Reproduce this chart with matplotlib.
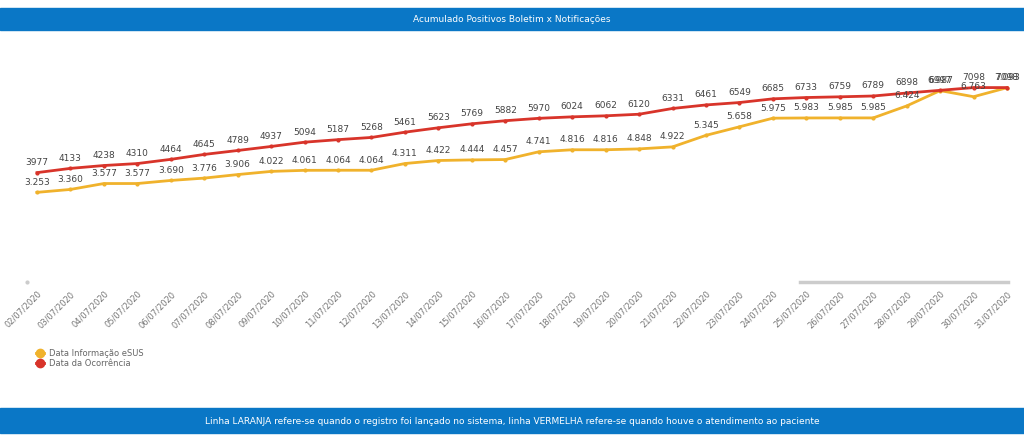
import matplotlib.pyplot as plt
from matplotlib.lines import Line2D
from matplotlib.patches import Rectangle

dates = [f"{d:02d}/07/2020" for d in range(2, 32)]
ocorrencia = [3977, 4133, 4238, 4310, 4464, 4645, 4789, 4937, 5094, 5187,
              5268, 5461, 5623, 5769, 5882, 5970, 6024, 6062, 6120, 6331,
              6461, 6549, 6685, 6733, 6759, 6789, 6898, 6997, 7098, 7098]
esus = [3253, 3360, 3577, 3577, 3690, 3776, 3906, 4022, 4061, 4064,
        4064, 4311, 4422, 4444, 4457, 4741, 4816, 4816, 4848, 4922,
        5345, 5658, 5975, 5983, 5985, 5985, 6424, 6987, 6763, 7093]

red = "#d8342a"
orange = "#f0b22c"
blue = "#0a77c6"
W, H = 1024, 440

fig = plt.figure(figsize=(W / 100, H / 100), dpi=100)
fig.patch.set_facecolor("white")

# header / footer bands
fig.add_artist(Rectangle((0, 1 - 30 / H), 1, 22 / H, transform=fig.transFigure,
                         color=blue, zorder=0))
fig.text(0.5, 1 - 19 / H, "Acumulado Positivos Boletim x Notificações",
         ha="center", va="center", color="white", fontsize=6.5)
fig.add_artist(Rectangle((0, 1 - 433 / H), 1, 25 / H, transform=fig.transFigure,
                         color=blue, zorder=0))
fig.text(0.5, 1 - 421 / H,
         "Linha LARANJA refere-se quando o registro foi lançado no sistema, "
         "linha VERMELHA refere-se quando houve o atendimento ao paciente",
         ha="center", va="center", color="white", fontsize=6.5)

x = list(range(len(dates)))
px = (1007 - 37) / 29
left = 37 - 0.3 * px
ax = fig.add_axes([left / W, 1 - 281 / H, 29.6 * px / W, 218 / H])
ax.set_xlim(-0.3, 29.3)
ax.set_ylim(0, 8000)

ax.plot(x, esus, color=orange, lw=2, marker="o", ms=2)
ax.plot(x, ocorrencia, color=red, lw=2, marker="o", ms=2)

for i in x:
    ax.annotate(str(ocorrencia[i]), (i, ocorrencia[i]), xytext=(0, 4),
                textcoords="offset points", ha="center", va="bottom",
                fontsize=6.5, color="#444444")
    lbl = f"{esus[i]:,}".replace(",", ".")
    ax.annotate(lbl, (i, esus[i]), xytext=(0, 4),
                textcoords="offset points", ha="center", va="bottom",
                fontsize=6.5, color="#444444")

for s in ax.spines.values():
    s.set_visible(False)
ax.set_yticks([])
ax.set_xticks(x)
ax.set_xticklabels(dates, rotation=45, ha="right", rotation_mode="anchor",
                   fontsize=6, color="#777777")
ax.tick_params(axis="x", length=0, pad=6)

# scrollbar
fig.add_artist(Line2D([800 / W, 1008 / W], [1 - 282 / H] * 2,
                      transform=fig.transFigure, color="#cccccc", lw=2.5))
fig.add_artist(Line2D([27 / W], [1 - 282 / H], transform=fig.transFigure,
                      marker="o", ms=2, color="#cccccc"))

handles = [Line2D([], [], color=orange, lw=2, marker="o", ms=6),
           Line2D([], [], color=red, lw=2, marker="o", ms=6)]
fig.legend(handles, ["Data Informação eSUS", "Data da Ocorrência"],
           loc="upper left", bbox_to_anchor=(28 / W, 1 - 341 / H),
           frameon=False, fontsize=6, labelcolor="#666666",
           handlelength=1.0, handletextpad=0.6, labelspacing=0.2)

fig.savefig("out.png", dpi=100)
